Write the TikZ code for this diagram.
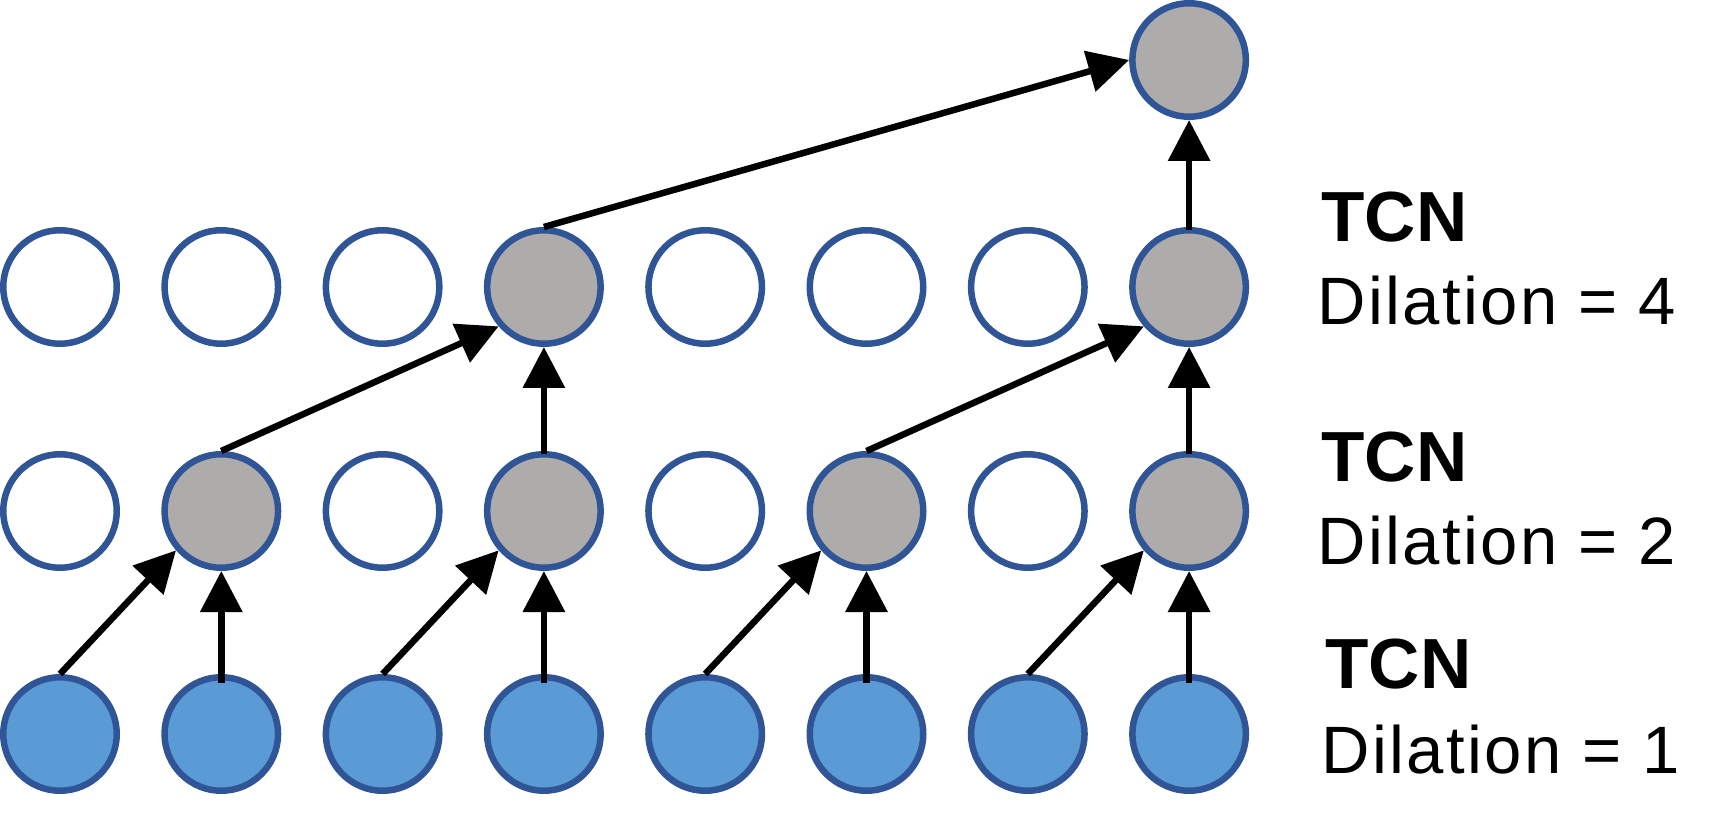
\documentclass[tikz,border=0pt]{standalone}
\usepackage{fontspec}
\setmainfont{Liberation Sans}
\usepackage{xcolor}
\usetikzlibrary{arrows.meta}
\definecolor{tcn_border}{RGB}{47,85,151}
\definecolor{tcn_blue}{RGB}{91,155,213}
\definecolor{tcn_gray}{RGB}{174,171,171}

\begin{document}
\begin{tikzpicture}[x=0.5pt, y=0.5pt,
    unit/.style={circle, draw=tcn_border, fill=white, line width=3.25pt,
      minimum size=56.75pt, inner sep=0pt},
    inunit/.style={unit, fill=tcn_blue},
    hidunit/.style={unit, fill=tcn_gray},
    link/.style={line width=3.25pt, -{Triangle[width=20.5pt, length=20.5pt]}},
    tcnlbl/.style={anchor=base west, inner sep=0pt,
      font=\fontsize{35.5}{42}\selectfont\bfseries},
    dillbl/.style={anchor=base west, inner sep=0pt,
      font=\fontsize{33.5}{40}\selectfont\addfontfeature{LetterSpace=3.5}}]
  \useasboundingbox (0,0) rectangle (1732,830);

  % input layer (dilation 1)
  \foreach \i in {1,...,8}
    \node[inunit] (in\i) at ({60+161.3*(\i-1)},96) {};

  % hidden layers (dilation 2 and 4)
  \foreach \i/\sty in {1/unit,2/hidunit,3/unit,4/hidunit,5/unit,6/hidunit,7/unit,8/hidunit}
    \node[\sty] (hA\i) at ({60+161.3*(\i-1)},319) {};
  \foreach \i/\sty in {1/unit,2/unit,3/unit,4/hidunit,5/unit,6/unit,7/unit,8/hidunit}
    \node[\sty] (hB\i) at ({60+161.3*(\i-1)},543) {};

  % output
  \node[hidunit] (out) at (1189.1,770) {};

  % dilation 1 -> 2
  \foreach \i/\j in {1/2,3/4,5/6,7/8} {
    \draw[link] (in\i.north) -- (hA\j.221);
    \draw[link] ([yshift=-4.5pt]in\j.north) -- (hA\j.south);
  }
  % dilation 2 -> 4
  \foreach \i/\j in {2/4,6/8} {
    \draw[link] (hA\i.north) -- (hB\j.221);
    \draw[link] ([yshift=-1.5pt]hA\j.north) -- (hB\j.south);
  }
  % dilation 4 -> output
  \draw[link] (hB4.north) -- (out.west);
  \draw[link] ([yshift=-1.5pt]hB8.north) -- (out.south);

  % layer labels
  \node[tcnlbl] (tcnB) at (1321,588.3) {TCN};
  \node[dillbl] (dilB) at (1317.4,505) {Dilation = 4};
  \node[tcnlbl] (tcnA) at (1321,348.3) {TCN};
  \node[dillbl] (dilA) at (1317.4,265) {Dilation = 2};
  \node[tcnlbl] (tcnI) at (1325,141.7) {TCN};
  \node[dillbl] (dilI) at (1321.4,56.7) {Dilation = 1};
\end{tikzpicture}
\end{document}
